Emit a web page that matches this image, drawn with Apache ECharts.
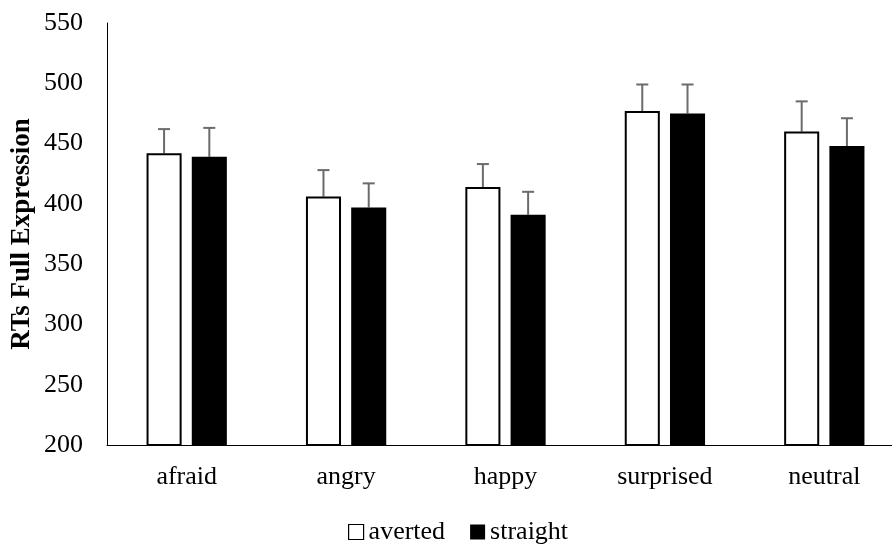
<!DOCTYPE html>
<html>
<head>
<meta charset="utf-8">
<script src="https://cdn.jsdelivr.net/npm/echarts@6/dist/echarts.min.js"></script>
<style>
  html, body { margin: 0; padding: 0; background: #fff; }
  #chart { width: 892px; height: 546px; }
</style>
</head>
<body>
<div id="chart"></div>
<script>
// Mean reaction times (ms) per expression and gaze direction, with error bars
var categories = ['afraid', 'angry', 'happy', 'surprised', 'neutral'];
var averted = [442, 406, 414, 477, 460];
var straight = [439, 397, 391, 475, 448];
var avertedErr = [20, 22, 19, 22, 25];
var straightErr = [24, 20, 19, 24, 23];
var yTicks = { min: 200, max: 550, step: 50 };

var FONT = '"Liberation Serif", "Times New Roman", serif';
var BAR_PCT = 0.22;   // bar width as a fraction of the category band
var GAP_PCT = 0.29;   // gap between the two bars, as a fraction of bar width

function barOffset(band, index) {
  var bw = band * BAR_PCT;
  var gap = bw * GAP_PCT;
  var total = 2 * bw + gap;
  return -total / 2 + index * (bw + gap) + bw / 2;
}

function errorSeries(values, errs, index) {
  var data = values.map(function (v, i) { return [i, v, v + errs[i]]; });
  return {
    type: 'custom',
    z: 1,
    silent: true,
    renderItem: function (params, api) {
      var i = api.value(0);
      var base = api.coord([i, api.value(1)]);
      var top = api.coord([i, api.value(2)]);
      var band = api.size([1, 0])[0];
      var x = base[0] + barOffset(band, index);
      var cap = 6;
      var style = { stroke: '#6b6b6b', lineWidth: 2 };
      return {
        type: 'group',
        children: [
          { type: 'line', shape: { x1: x, y1: base[1], x2: x, y2: top[1] }, style: style },
          { type: 'line', shape: { x1: x - cap, y1: top[1], x2: x + cap, y2: top[1] }, style: style }
        ]
      };
    },
    encode: { x: 0, y: [1, 2] },
    data: data
  };
}

var chart = echarts.init(document.getElementById('chart'));
chart.setOption({
  backgroundColor: '#fff',
  animation: false,
  grid: { left: 107, right: -12, top: 23, bottom: 101, containLabel: false, outerBoundsMode: 'none' },
  legend: {
    left: 343,
    top: 514,
    itemWidth: 15,
    itemHeight: 15,
    itemGap: 25,
    icon: 'rect',
    textStyle: { fontFamily: FONT, fontSize: 26, color: '#000' },
    data: [
      { name: 'averted', itemStyle: { color: '#fff', borderColor: '#000', borderWidth: 1.2 } },
      { name: 'straight', itemStyle: { color: '#000' } }
    ]
  },
  xAxis: {
    type: 'category',
    data: categories,
    axisLine: { lineStyle: { color: '#000', width: 1 } },
    axisTick: { show: false },
    axisLabel: { fontFamily: FONT, fontSize: 26, color: '#000', margin: 19 }
  },
  yAxis: {
    type: 'value',
    min: yTicks.min,
    max: yTicks.max,
    interval: yTicks.step,
    name: 'RTs Full Expression',
    nameLocation: 'middle',
    nameGap: 71,
    nameMoveOverlap: false,
    nameRotate: 90,
    nameTextStyle: { fontFamily: FONT, fontSize: 27, fontWeight: 'bold', color: '#000' },
    axisLine: { show: true, lineStyle: { color: '#000', width: 1 } },
    axisTick: { show: false },
    splitLine: { show: false },
    axisLabel: { fontFamily: FONT, fontSize: 26, color: '#000', margin: 24 }
  },
  series: [
    {
      name: 'averted',
      type: 'bar',
      data: averted,
      barWidth: (BAR_PCT * 100) + '%',
      barGap: (GAP_PCT * 100) + '%',
      itemStyle: { color: '#fff', borderColor: '#000', borderWidth: 2 },
      z: 2
    },
    {
      name: 'straight',
      type: 'bar',
      data: straight,
      barWidth: (BAR_PCT * 100) + '%',
      barGap: (GAP_PCT * 100) + '%',
      itemStyle: { color: '#000' },
      z: 2
    },
    errorSeries(averted, avertedErr, 0),
    errorSeries(straight, straightErr, 1)
  ]
});
</script>
</body>
</html>
